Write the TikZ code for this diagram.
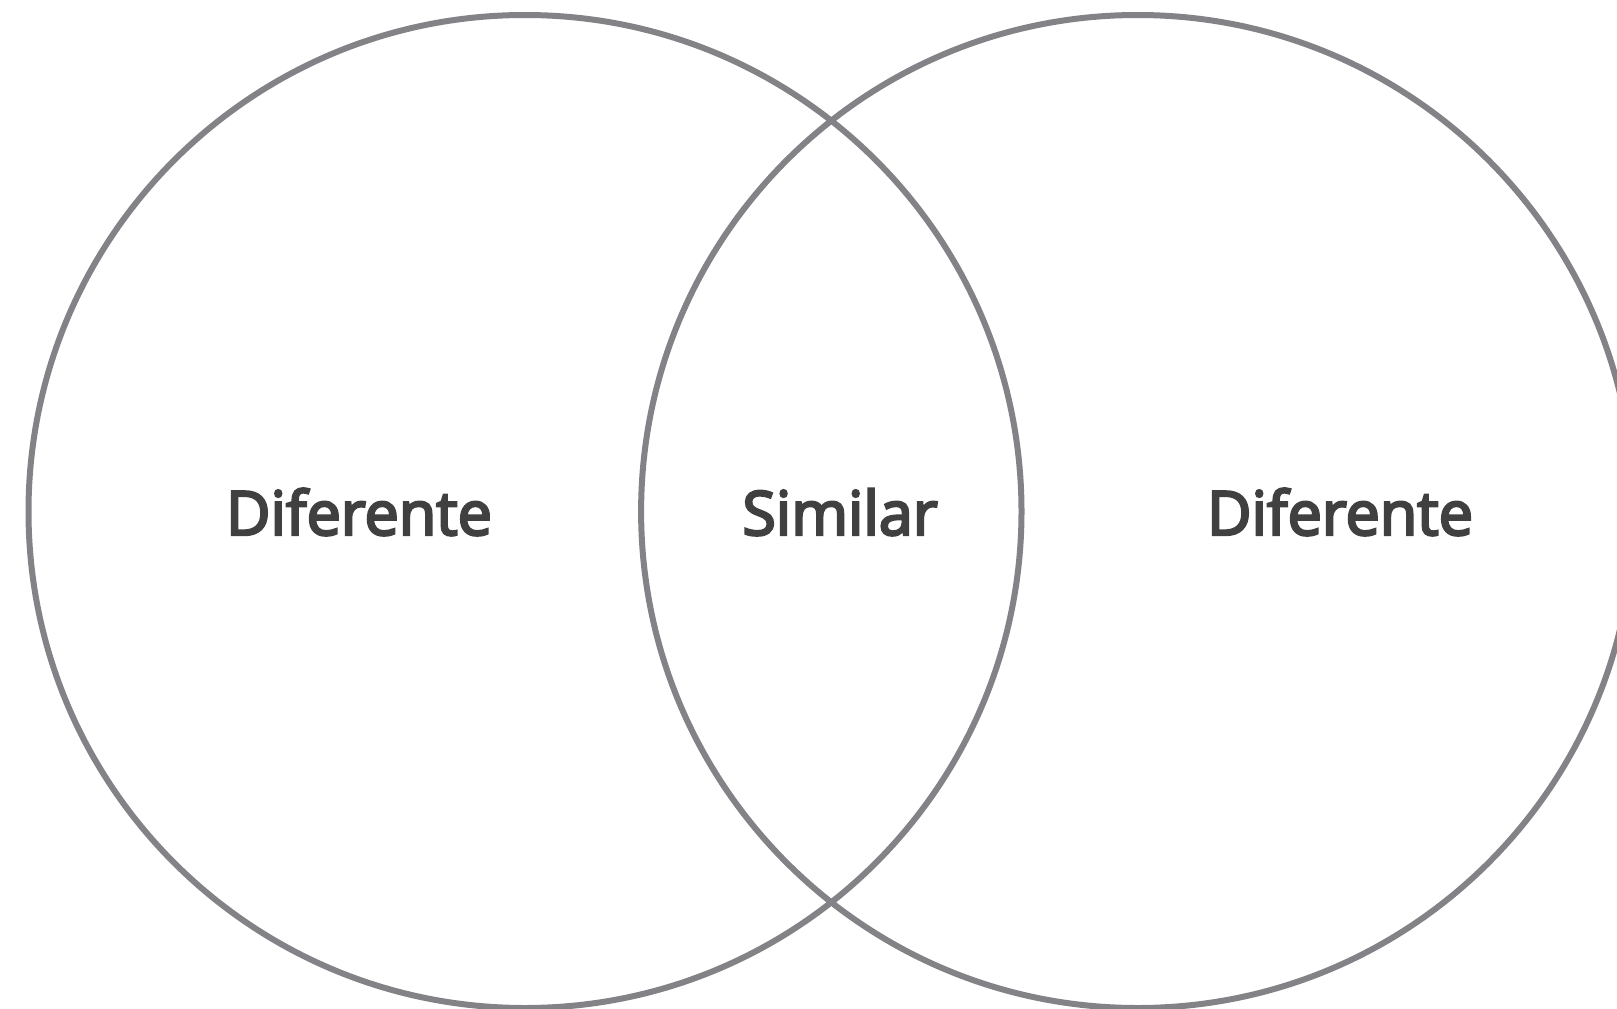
\documentclass[tikz,border=0pt]{standalone}
\usepackage{fontspec}
\newfontfamily\lblfont{Open Sans}[FakeBold=4]
\begin{document}
\begin{tikzpicture}[x=1pt,y=-1pt,
  ring/.style={draw=ringgray,line width=6pt},
  lbl/.style={text=lblgray,font=\lblfont\fontsize{61}{63}\selectfont,inner sep=0pt,anchor=base}]
\definecolor{ringgray}{HTML}{838387}
\definecolor{lblgray}{HTML}{404040}
\useasboundingbox (0,0) rectangle (1617,1009);
\clip (0,0) rectangle (1617,1009);
\node[ring,circle,minimum size=993pt,inner sep=0pt] (left) at (525,511.5) {};
\node[ring,circle,minimum size=993pt,inner sep=0pt] (right) at (1137.6,511.5) {};
\node[lbl] (d1) at (359,535) {Diferente};
\node[lbl] (s) at (840,535) {Similar};
\node[lbl] (d2) at (1340,535) {Diferente};
\end{tikzpicture}
\end{document}
